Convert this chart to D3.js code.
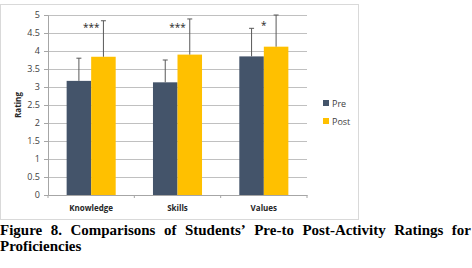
<!DOCTYPE html>
<html>
<head>
<meta charset="utf-8">
<script src="https://cdn.jsdelivr.net/npm/d3@7"></script>
<style>
  body { margin: 0; background: #fff; }
  svg { display: block; }
</style>
</head>
<body>
<div id="chart"></div>
<script>
// chart data
var categories = ["Knowledge", "Skills", "Values"];
var seriesNames = ["Pre", "Post"];
var preValues = [3.17, 3.13, 3.85];
var postValues = [3.84, 3.90, 4.12];
var preErrTop = [3.80, 3.75, 4.63];
var postErrTop = [4.84, 4.89, 5.0];
var stars = ["***", "***", "*"];
var yTicks = [0, 0.5, 1, 1.5, 2, 2.5, 3, 3.5, 4, 4.5, 5];
var captionLine1 = ["Figure", "8.", "Comparisons", "of", "Students’", "Pre-to", "Post-Activity", "Ratings", "for"];
var captionLine2 = "Proficiencies";

var colours = {Pre: "#44546a", Post: "#ffc000"};

var svg = d3.select("#chart")
    .append("svg")
    .attr("width", 472)
    .attr("height", 268);

// chart frame
svg.append("rect")
    .attr("x", 0.5).attr("y", 4.5)
    .attr("width", 358).attr("height", 215)
    .attr("fill", "#fff")
    .attr("stroke", "#d9d9d9");

var margin = {left: 48, top: 15};
var plotW = 259, plotH = 180;
var g = svg.append("g")
    .attr("transform", "translate(" + margin.left + "," + margin.top + ")");

var x = d3.scaleBand().domain(categories).range([0, plotW]).paddingInner(0).paddingOuter(0);
var xs = d3.scaleBand().domain(seriesNames).range([0, x.bandwidth()]).paddingInner(0).paddingOuter(0.76);
var y = d3.scaleLinear().domain([0, 5]).range([plotH, 0]);

// gridlines
g.selectAll(".grid")
    .data(yTicks.filter(function (d) { return d > 0; }))
    .join("line")
    .attr("x1", 0).attr("x2", plotW)
    .attr("y1", function (d) { return Math.round(y(d)) + 0.5; })
    .attr("y2", function (d) { return Math.round(y(d)) + 0.5; })
    .attr("stroke", "#c0c0c0")
    .attr("stroke-width", 1);

// y axis
var yAxis = g.append("g")
    .call(d3.axisLeft(y).tickValues(yTicks).tickSize(4).tickFormat(d3.format("")));
yAxis.select(".domain").attr("stroke", "#a6a6a6");
yAxis.selectAll(".tick line").attr("stroke", "#a6a6a6");
yAxis.selectAll(".tick text")
    .attr("x", -8)
    .attr("fill", "#404040")
    .style("font-family", "'Open Sans', sans-serif")
    .style("font-size", "9px");

// x axis
var xAxis = g.append("g")
    .attr("transform", "translate(0," + plotH + ")")
    .call(d3.axisBottom(x).tickSize(0).tickPadding(10));
xAxis.select(".domain").attr("stroke", "#a6a6a6");
xAxis.selectAll(".tick text")
    .attr("fill", "#262626")
    .style("font-family", "'Open Sans', sans-serif")
    .style("font-size", "8px")
    .style("font-weight", "bold");
// boundary tick marks
xAxis.selectAll(".bound")
    .data(d3.range(categories.length + 1))
    .join("line")
    .attr("x1", function (i) { return i * x.bandwidth(); })
    .attr("x2", function (i) { return i * x.bandwidth(); })
    .attr("y1", 0).attr("y2", 3)
    .attr("stroke", "#a6a6a6");

// bars
var rows = [];
categories.forEach(function (c, i) {
    rows.push({cat: c, s: "Pre", v: preValues[i], e: preErrTop[i]});
    rows.push({cat: c, s: "Post", v: postValues[i], e: postErrTop[i]});
});

g.selectAll(".bar")
    .data(rows)
    .join("rect")
    .attr("x", function (d) { return x(d.cat) + xs(d.s); })
    .attr("y", function (d) { return y(d.v); })
    .attr("width", xs.bandwidth())
    .attr("height", function (d) { return plotH - y(d.v); })
    .attr("fill", function (d) { return colours[d.s]; });

// error bars (plus direction only)
var err = g.selectAll(".err").data(rows).join("g").attr("stroke", "#595959").attr("stroke-width", 1);
err.append("line")
    .attr("x1", function (d) { return x(d.cat) + xs(d.s) + xs.bandwidth() / 2; })
    .attr("x2", function (d) { return x(d.cat) + xs(d.s) + xs.bandwidth() / 2; })
    .attr("y1", function (d) { return y(d.v); })
    .attr("y2", function (d) { return y(d.e); });
err.append("line")
    .attr("x1", function (d) { return x(d.cat) + xs(d.s) + xs.bandwidth() / 2 - 2.5; })
    .attr("x2", function (d) { return x(d.cat) + xs(d.s) + xs.bandwidth() / 2 + 2.5; })
    .attr("y1", function (d) { return y(d.e); })
    .attr("y2", function (d) { return y(d.e); });

// significance stars
g.selectAll(".star")
    .data(categories)
    .join("text")
    .attr("x", function (d) { return x(d) + x.bandwidth() / 2; })
    .attr("y", function (d, i) { return y(stars[i] === "*" ? 4.6 : 4.55); })
    .attr("text-anchor", "middle")
    .attr("fill", "#262626")
    .style("font-family", "'Open Sans', sans-serif")
    .style("font-size", "10px")
    .text(function (d, i) { return stars[i]; });

// y axis label
svg.append("text")
    .attr("transform", "translate(21,105) rotate(-90)")
    .attr("text-anchor", "middle")
    .attr("fill", "#262626")
    .style("font-family", "'Open Sans', sans-serif")
    .style("font-size", "8px")
    .style("font-weight", "bold")
    .text("Rating");

// legend
var legend = svg.append("g").attr("transform", "translate(323,100)");
legend.selectAll("rect")
    .data(seriesNames)
    .join("rect")
    .attr("x", 0)
    .attr("y", function (d, i) { return i * 18; })
    .attr("width", 6).attr("height", 6)
    .attr("fill", function (d) { return colours[d]; });
legend.selectAll("text")
    .data(seriesNames)
    .join("text")
    .attr("x", 9)
    .attr("y", function (d, i) { return i * 18 + 6.5; })
    .attr("fill", "#404040")
    .style("font-family", "'Open Sans', sans-serif")
    .style("font-size", "9px")
    .text(function (d) { return d; });

// caption, first line justified across the width
var capFont = "bold 15px 'Liberation Serif', 'Times New Roman', serif";
var cap = svg.append("g");
var widths = [];
captionLine1.forEach(function (w) {
    var t = cap.append("text").style("font", capFont).text(w);
    widths.push(t.node().getComputedTextLength());
    t.remove();
});
var total = d3.sum(widths);
var gap = (471 - total) / (captionLine1.length - 1);
var cx = 0;
captionLine1.forEach(function (w, i) {
    cap.append("text")
        .attr("x", cx).attr("y", 235)
        .style("font", capFont)
        .attr("fill", "#000")
        .text(w);
    cx += widths[i] + gap;
});
cap.append("text")
    .attr("x", 0).attr("y", 251)
    .style("font", capFont)
    .attr("fill", "#000")
    .text(captionLine2);
</script>
</body>
</html>
